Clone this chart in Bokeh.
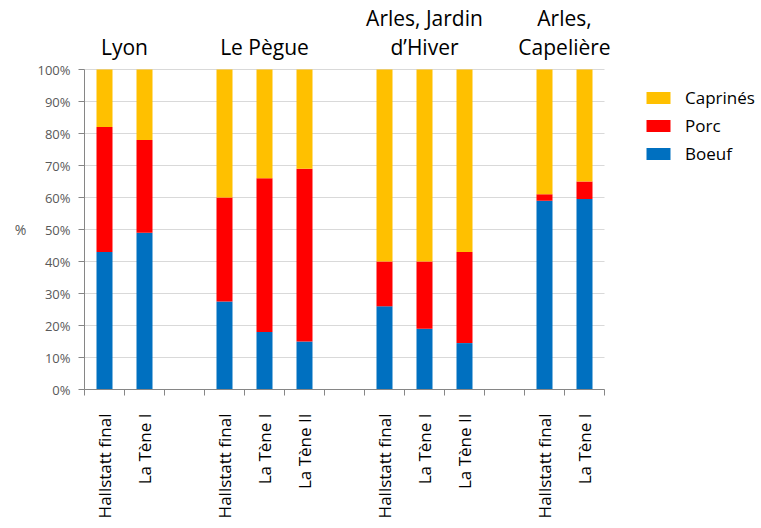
import math
from bokeh.plotting import figure
from bokeh.models import (Range1d, FixedTicker, Legend, LegendItem, Label,
                          ColumnDataSource, PrintfTickFormatter)
from bokeh.embed import file_html
from bokeh.resources import INLINE

# ---------------- data ----------------
sites = ["Lyon", "Le Pègue", "Arles, Jardin\nd’Hiver", "Arles,\nCapelière"]
periods = [
    ["Hallstatt final", "La Tène I"],
    ["Hallstatt final", "La Tène I", "La Tène II"],
    ["Hallstatt final", "La Tène I", "La Tène II"],
    ["Hallstatt final", "La Tène I"],
]
boeuf = [43, 49, 27.5, 18, 15, 26, 19, 14.5, 59, 59.5]
porc = [39, 29, 32.5, 48, 54, 14, 21, 28.5, 2, 5.5]
caprines = [18, 22, 40, 34, 31, 60, 60, 57, 39, 35]
species = ["Boeuf", "Porc", "Caprinés"]
colors = ["#0070C0", "#FF0000", "#FFC000"]
y_ticks = [0, 10, 20, 30, 40, 50, 60, 70, 80, 90, 100]
y_title = "%"

# ---------------- slot positions (one empty slot between sites) ----------------
xs, labels, group_centers = [], [], []
slot = 0
for gi, per in enumerate(periods):
    start = slot
    for lab in per:
        xs.append(slot + 0.5)
        labels.append(lab)
        slot += 1
    group_centers.append((start + slot) / 2)
    if gi < len(periods) - 1:
        slot += 1
n_slots = slot

FONT = "Open Sans"
GRAY = "#595959"
AXIS_GRAY = "#868686"
PX_PER_UNIT_Y = 3.2      # 320 px for 100 %
PX_PER_SLOT = 40         # 520 px for 13 slots
LEFT_PX = 84             # x-position of the value axis
BASE_PX = 389            # y-position of the category axis
FRAME_W, FRAME_H = 761, 528

p = figure(frame_width=FRAME_W, frame_height=FRAME_H,
           x_range=Range1d(-LEFT_PX / PX_PER_SLOT, (FRAME_W - LEFT_PX) / PX_PER_SLOT),
           y_range=Range1d(-(FRAME_H - BASE_PX) / PX_PER_UNIT_Y, BASE_PX / PX_PER_UNIT_Y),
           output_backend="svg", toolbar_location=None,
           min_border_left=0, min_border_right=0,
           min_border_top=0, min_border_bottom=0)
p.outline_line_color = None
p.background_fill_color = "white"
p.border_fill_color = "white"

# horizontal grid lines limited to the category span
p.xgrid.visible = False
p.ygrid.visible = False
p.segment(x0=[0] * len(y_ticks), x1=[n_slots] * len(y_ticks),
          y0=y_ticks, y1=y_ticks, line_color="#D9D9D9", line_width=1,
          level="underlay")

src = ColumnDataSource(dict(x=xs, Boeuf=boeuf, Porc=porc, Caprinés=caprines))
rs = p.vbar_stack(species, x="x", width=0.4, color=colors, line_color=None,
                  source=src)

# x axis, pinned at y = 0
xa = p.xaxis[0]
xa.fixed_location = 0
xa.ticker = FixedTicker(ticks=xs, minor_ticks=list(range(n_slots + 1)))
xa.major_label_overrides = {x: lab for x, lab in zip(xs, labels)}
xa.major_label_orientation = math.pi / 2
xa.major_tick_out = 0
xa.major_tick_in = 0
xa.minor_tick_out = 6
xa.minor_tick_in = 0
xa.minor_tick_line_color = AXIS_GRAY
xa.axis_line_color = AXIS_GRAY
xa.bounds = (0, n_slots)
xa.major_label_standoff = 18
xa.major_label_text_font = FONT
xa.major_label_text_font_size = "17px"
xa.major_label_text_color = "black"

# y axis, pinned at x = 0
ya = p.yaxis[0]
ya.fixed_location = 0
ya.ticker = FixedTicker(ticks=y_ticks, minor_ticks=[])
ya.formatter = PrintfTickFormatter(format="%d%%")
ya.bounds = (0, 100)
ya.major_tick_out = 6
ya.major_tick_in = 0
ya.minor_tick_out = 0
ya.minor_tick_in = 0
ya.major_tick_line_color = AXIS_GRAY
ya.axis_line_color = AXIS_GRAY
ya.major_label_standoff = 8
ya.major_label_text_font = FONT
ya.major_label_text_font_size = "13px"
ya.major_label_text_color = GRAY

# y-axis title "%" centred on the 0-100 span, left of the tick labels
p.add_layout(Label(x=-64 / PX_PER_SLOT, y=50, x_units="data", y_units="data",
                   text=y_title, text_align="center", text_baseline="middle",
                   text_font=FONT, text_font_size="14px", text_color=GRAY))

# site titles
title_base = (BASE_PX - 46) / PX_PER_UNIT_Y
line_step = 28.5 / PX_PER_UNIT_Y
for c, name in zip(group_centers, sites):
    lines = name.split("\n")
    for k, line in enumerate(lines):
        p.add_layout(Label(x=c, y=title_base + (len(lines) - 1 - k) * line_step,
                           x_units="data", y_units="data", text=line,
                           text_align="center", text_baseline="alphabetic",
                           text_font=FONT, text_font_size="21px",
                           text_color="black"))

# legend (location in px from the bottom-left of the frame)
legend = Legend(items=[LegendItem(label=species[i], renderers=[rs[i]])
                       for i in (2, 1, 0)],
                location=(643, 224 + (FRAME_H - BASE_PX)), padding=0, margin=0,
                glyph_width=30, glyph_height=15, label_standoff=12,
                spacing=5, label_height=15,
                label_text_font=FONT, label_text_font_size="17px",
                label_text_color="black",
                border_line_color=None, background_fill_alpha=0)
p.add_layout(legend)

open("out.html", "w").write(file_html(p, INLINE))
